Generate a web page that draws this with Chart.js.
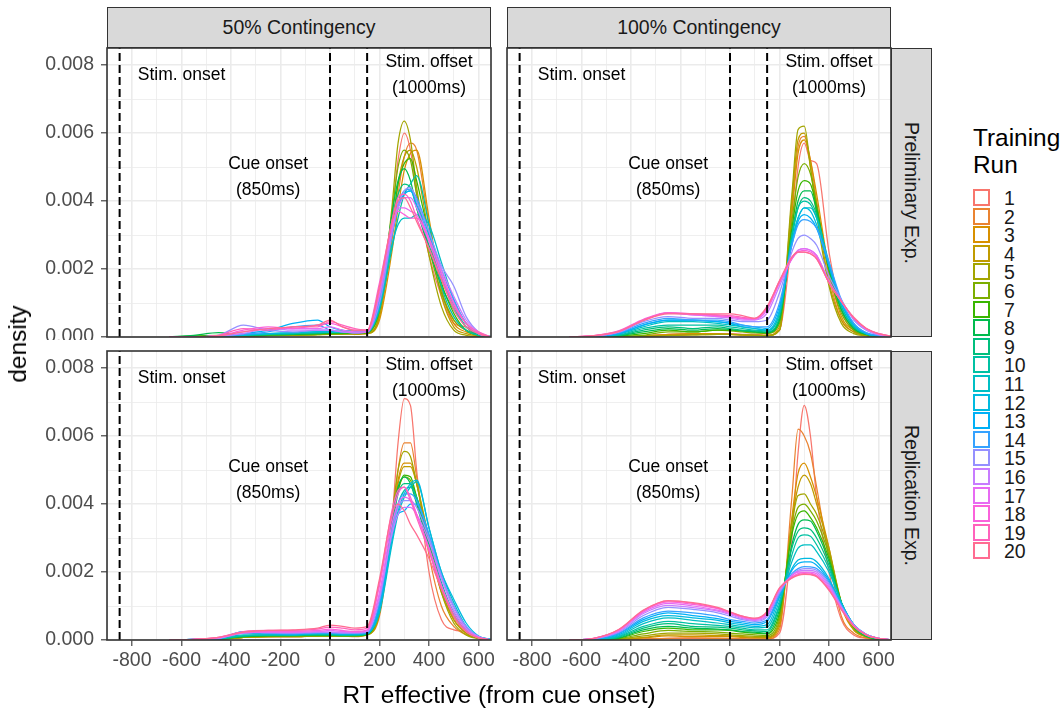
<!DOCTYPE html>
<html>
<head>
<meta charset="utf-8">
<script src="https://cdn.jsdelivr.net/npm/chart.js@4.4.1/dist/chart.umd.min.js"></script>
<style>
body { margin: 0; background: #fff; }
#fig { position: relative; width: 1064px; height: 711px; overflow: hidden; font-family: 'Liberation Sans', Arial, sans-serif; }
#fig canvas, #fig div { position: absolute; }
.strip { background: #D9D9D9; border: 1.6px solid #333; box-sizing: border-box; color: #1A1A1A; font-size: 19.5px;
         display: flex; align-items: center; justify-content: center; }
.side { writing-mode: vertical-rl; }
.title { font-size: 24.4px; color: #000; white-space: nowrap; }
.key { width: 17px; height: 17px; box-sizing: border-box; background: #fff; }
.keylab { font-size: 19.5px; color: #1A1A1A; transform: translateY(-50%); }
</style>
</head>
<body>
<div id="fig"></div>
<script>
const FONT = "'Liberation Sans', Arial, sans-serif";
Chart.defaults.font.family = FONT;

const runs = ['1','2','3','4','5','6','7','8','9','10','11','12','13','14','15','16','17','18','19','20'];
const runColors = ['#F8766D','#EA8331','#D89000','#C09B00','#A3A500','#7CAE00','#39B600','#00BB4E','#00BF7D','#00C1A3',
                   '#00BFC4','#00BAE0','#00B0F6','#35A2FF','#9590FF','#C77CFF','#E76BF3','#FA62DB','#FF62BC','#FF6C91'];
const colFacets = ['50% Contingency', '100% Contingency'];
const rowFacets = ['Preliminary Exp.', 'Replication Exp.'];

// RT effective (ms from cue onset) where the densities are read
const rtGrid = [-650,-550,-450,-350,-250,-150,-50,0,50,100,150,200,250,275,300,325,350,400,450,500,550,600,650];

// density x 10^4, one row per training run
const prelim50 = [
  [0,0,0,0.2,0.5,0.5,1,1,1,1,1.5, 8,35,52,60,55,42,24,12,4,3,1,0],
  [0,0,0,0.3,0.6,0.8,1,1,1,1,1.2, 6,28,42,53,57,55,33,14,5,2,1,0],
  [0,0,0,0.2,0.5,0.5,0.8,1,1,0.8,1, 5,25,38,49,54,55,35,14,4,1.5,0.5,0],
  [0,0,0,0.3,0.5,0.6,0.8,1,1,1,1.2, 6,30,45,53,55,50,30,12,3,1,0.3,0],
  [0,0,0,0.2,0.4,0.5,0.6,0.8,0.8,1,1, 7,38,57,63.5,58,44,24,9,2,0.5,0.1,0],
  [0,0.2,0.3,0.3,0.5,0.6,0.8,1,1,1,1.3, 8,36,50,55,52,42,26,13,5,2,0.5,0],
  [0,0.3,0.5,0.4,0.6,0.8,1,1,1.1,1.2,1.3, 8,32,45,51,52.5,46,30,16,7,2,0.5,0],
  [0,0.5,1.3,0.5,0.6,0.8,1,1.2,1.2,1.2,1.5, 10,36,46,49.5,46,38,26,15,8,3,0.5,0],
  [0,0,0.2,0.5,0.8,1,1.2,1.5,1.8,1.8,1.8, 11,34,42,45,44,38,27,17,9,3,1,0],
  [0,0,0.2,0.5,0.8,1,1.3,1.5,1.5,1.5,1.5, 8,26,35,42,45,47.5,33,15,6,2,0.5,0],
  [0,0,0.2,0.5,1,1.2,1.5,1.5,1.5,1.5,1.5, 9,27,33,35,35,36,33,22,11,4,1,0.2],
  [0,0,0.2,0.6,1,1.3,1.6,1.5,1.5,1.5,1.5, 9,30,38,42,43,40,30,18,9,3,1,0],
  [0,0,0.3,1,2,4,5,3,2,1.5,1.5, 10,30,38,42,43,39,29,18,10,4,1,0],
  [0,0,0.3,0.8,1.5,3,3.5,2,1.5,1.5,1.5, 11,31,39,43,43.5,41,31,20,11,4,1,0],
  [0,0,0.5,3.5,2,1.5,2,2,1.5,1.2,1.5, 10,30,39,43,44,40,31,21,15,6,1.5,0],
  [0,0,0.3,1,2.5,2,2,2,1.5,1.2,1.5, 12,31,38,41,41,38,29,20,12,5,1.5,0],
  [0,0,0.5,1.5,2.5,2.5,2.5,3,2,1.5,1.5, 13,32,38,38,37,36,28,18,10,4,1,0],
  [0,0,0.3,2,3,2.5,3.5,4,3,2,2, 16,33,37,36,35,35,29,19,10,4,1,0],
  [0,0,0.5,2.5,2,3,3,4.5,3.5,2.5,2, 14,34,41,42,40,35,26,17,9,4,1.5,0],
  [0,0,0.4,1.5,2.5,3,3.5,5,3,2,2, 15,34,40,41,38,34,26,17,8,3,1,0]
];
const prelim100 = [
  [0,0,0,0.3,0.8,1,1,1,0.8,0.8,0.5, 2,30,50,57,52,51,25,8,2,0.5,0.2,0],
  [0,0,0,0.2,0.6,0.8,0.8,0.8,0.6,0.5,0.5, 2,38,56,59,52,40,18,5,1.5,0.5,0.2,0],
  [0,0,0,0.3,0.8,1,1,0.8,0.6,0.5,0.5, 3,36,54,58,52,42,20,6,2,0.5,0.2,0],
  [0,0,0,0.2,0.5,0.6,0.8,0.8,0.6,0.5,0.4, 2,40,58,60,50,38,16,5,1.5,0.5,0.2,0],
  [0,0,0,0.2,0.4,0.6,0.8,0.8,0.6,0.5,0.4, 2,42,61,62,50,36,15,4,1,0.3,0.1,0],
  [0,0,0.2,0.5,1.5,1.5,2,1.8,1.5,1.2,1, 4,34,47,51,48,39,19,7,2,0.6,0.2,0],
  [0,0,0.3,1,2,1.5,2,2,1.8,1.5,1.2, 5,32,43,46,45,38,20,8,2.5,0.8,0.2,0],
  [0,0,0.4,1.5,2.5,2,2.5,2.2,1.8,1.5,1.3, 5,30,40,43,43,37,20,8,2.5,0.8,0.2,0],
  [0,0,0.5,2,3,2.5,3,2.5,2,1.8,1.5, 6,29,38,41,40,36,21,9,3,1,0.3,0],
  [0,0,0.6,2.5,3.5,3.5,3.5,3,2.5,2,1.8, 7,30,38,40,39,35,21,9,3,1,0.3,0],
  [0,0.1,0.8,3,4.5,4.5,4,3.5,3,2.5,2, 7,28,35,38,38,35,22,10,3.5,1,0.3,0],
  [0,0.1,1,3.5,5,5,4.5,4,3,2.5,2, 8,28,35,38,37,33,21,10,3.5,1,0.3,0],
  [0,0.2,1,3.5,5,5,4.5,4,3.5,3,2.5, 9,27,34,36,35,32,21,10,4,1.2,0.4,0],
  [0,0.2,1.2,4,5.5,5,5,4.5,3.5,3,3, 10,27,33,34.5,34,32,22,11,4,1.3,0.4,0],
  [0,0.3,1.4,4.5,6,5.5,5.5,5,4.5,4.5,5, 13,25,29,30,29,27,18,11,5,2,0.6,0.1],
  [0,0.3,1.5,5,7,6.5,6,5.5,5,5,7, 15,23,25.5,26,25.5,24,16.5,10.5,5.5,2.2,0.8,0.2],
  [0,0.3,1.6,5,7,6.5,6,5.8,5.3,5.2,8, 16,23,25.5,26,25.5,24,16,10.5,5.5,2.3,0.8,0.2],
  [0,0.4,1.8,5.2,7.2,6.8,6.3,6,5.5,5.3,8.5, 16,23,25,25.5,25,23.5,16,10.5,5.5,2.5,1,0.3],
  [0,0.4,1.7,5,7,6.8,6.5,6.3,5.8,5.5,8.8, 16.5,23.5,25,25,24.5,23,16,10.5,5.5,2.5,1,0.3],
  [0,0.4,1.6,4.8,6.8,6.8,6.8,6.8,6.3,5.5,9, 16.5,23.5,25,25,24.5,23,16,10.5,5.8,2.6,1,0.3]
];
const repl50 = [
  [0,0,0.2,0.8,1,1,1.2,1.5,1.5,1.5,2, 8,35,58,71,69,50,20,6,3,2.5,0.5,0],
  [0,0,0.2,0.8,1,1,1.2,1.2,1.2,1,1.5, 7,33,50,58,58,48,25,10,4,1.5,0.5,0],
  [0,0,0.2,0.8,1,1,1.2,1.2,1.2,1.2,1.5, 8,34,47,52,52,46,28,14,6,2,0.5,0],
  [0,0,0.2,0.8,1,1.2,1.2,1.2,1.2,1.2,1.5, 8,34,46,51,51,46,30,15,6,2,0.5,0],
  [0,0,0.2,0.8,1,1,1.2,1.2,1.2,1.2,1.5, 8,36,50,55.5,54,46,29,14,5,1.5,0.4,0],
  [0,0,0.3,1,1.2,1.2,1.3,1.3,1.2,1.2,1.6, 9,34,44,48,47,42,30,16,7,2.5,0.6,0],
  [0,0.2,0.4,1,1.2,1.3,1.3,1.3,1.3,1.3,1.6, 9,34,44,48.5,48,42,28,15,7,2.5,0.6,0],
  [0,0,0.3,1,1.3,1.3,1.5,1.4,1.3,1.3,1.7, 10,35,45,48,46,40,27,15,7,2.5,0.6,0],
  [0,0,0.3,1.2,1.4,1.4,1.6,1.6,1.4,1.4,1.8, 10,33,43,46,46,41,28,16,8,3,0.8,0],
  [0,0,0.3,1.2,1.5,1.5,1.6,1.6,1.5,1.5,1.8, 9,31,40,44,45,42,30,17,8,3,0.8,0],
  [0,0.2,0.4,1.5,1.5,1.5,1.8,1.8,1.6,1.6,2, 8,28,37,42,45,46.5,33,20,11,4,1,0.2],
  [0,0.2,0.4,2,1.8,1.6,2,2,1.8,1.8,2, 9,29,38,43,46,47,33,20,12,5,1.2,0.2],
  [0,0.2,0.4,2.5,2,1.8,2,2,1.8,1.8,2, 10,31,37,38,40,40,31,19,10,4,1,0],
  [0,0.2,0.5,2.5,2,1.8,2.2,2.2,2,2,2.2, 11,32,40,43,43,41,31,19,10,4,1,0],
  [0,0.2,0.5,2.3,2.2,2,2.2,2.2,2,2,2.3, 12,32,39,41,41,39,30,19,10,4,1,0],
  [0,0.2,0.6,2.2,2.2,2.2,2.4,2.4,2.2,2.2,2.5, 13,31,37,39,39,37,29,18,9,3.5,1,0],
  [0,0.2,0.6,2,2.5,2.3,2.5,2.8,2.5,2.3,2.8, 14,34,40,42,41,37,27,16,8,3,0.8,0],
  [0,0.2,0.8,2.3,2.5,2.5,2.8,3.2,2.8,2.5,3, 16,36,43,45,42,37,27,16,7,2.5,0.6,0],
  [0,0.2,0.8,2.5,2.8,2.8,3.2,3.8,3.5,3,3.5, 17,38,44,45,41,36,26,15,7,2.5,0.6,0],
  [0,0.2,0.8,2.3,2.8,3,3.5,4.4,4,3.5,4, 18,37,40,38,34,31,24,15,7,2.5,0.6,0]
];
const repl100 = [
  [0,0,0,0.2,0.5,0.5,0.5,0.4,0.3,0.2,0.3, 2,30,55,69,60,42,20,6,1.5,0.5,0.1,0],
  [0,0,0,0.3,0.5,0.6,0.5,0.5,0.4,0.3,0.3, 3,42,62,60,55,45,24,7,2,0.6,0.1,0],
  [0,0,0.1,0.6,1.2,1,1,1,0.8,0.6,0.6, 4,36,49,52,48,42,27,10,3,1,0.2,0],
  [0,0,0.2,0.8,1.5,1.5,1.3,1.2,1,0.8,0.8, 5,35,45,48.5,46,40,27,11,3,1,0.2,0],
  [0,0,0.3,1.2,2,2,1.8,1.5,1.3,1.1,1, 6,34,42.5,43,40,37,26,11,3.5,1,0.3,0],
  [0,0,0.4,1.8,2.8,2.5,2.3,2,1.8,1.5,1.3, 7,32,39,40,38,35,25,11,3.5,1,0.3,0],
  [0,0,0.5,2.5,3.5,3,3,2.8,2.3,2,1.8, 8,31,37,38,36,33,24,11,4,1.2,0.3,0],
  [0,0,0.6,3,4,3.5,3.2,3,2.5,2.3,2, 9,28,34,35.3,35,32,23,11,4,1.2,0.3,0],
  [0,0.1,0.8,3.5,4.8,4,3.8,3.5,3,2.7,2.5, 10,27,32,33,32.5,30,22,11,4,1.3,0.4,0],
  [0,0.1,1,4,5.5,4.8,4.3,4,3.5,3,3, 10.5,25,30,30.9,30.5,28,21,11,4.5,1.5,0.4,0],
  [0,0.2,1.2,4.8,6.5,5.8,5,4.5,4,3.6,3.8, 11.5,23,27,28,28,26,20,11,4.5,1.5,0.4,0],
  [0,0.2,1.5,5.5,7.2,6.5,5.8,5,4.5,4,4.5, 12.5,21,23.5,24,24,23,18,10.5,4.5,1.6,0.5,0.1],
  [0,0.3,1.8,6,8,7.2,6.3,5.5,5,4.5,5.5, 13,20.5,22.5,23,23,22,17.5,10.5,4.5,1.7,0.5,0.1],
  [0,0.3,2,6.5,8.5,8,7,6,5.5,5,6, 13.5,19.5,21,21.6,21.5,21,17,10,4.5,1.7,0.5,0.1],
  [0,0.4,2.3,7.2,9.6,9,8,7,6,5.5,6.8, 14,19,20.5,21,21,20.5,16.5,10,4.5,1.7,0.5,0.1],
  [0,0.4,2.5,7.8,10.2,9.5,8.5,7.5,6.3,5.8,7.2, 14.5,19,20.2,20.5,20.5,20,16,9.5,4.3,1.6,0.5,0.1],
  [0,0.5,2.7,8.2,10.8,10,8.8,7.8,6.6,6,7.6, 15,19,20,20,20,19.5,15.5,9.3,4.2,1.6,0.5,0.1],
  [0,0.5,2.9,8.5,11.2,10.5,9.2,8,6.8,6.2,8, 15,18.5,19.5,19.8,19.7,19,15,9,4.1,1.5,0.5,0.1],
  [0,0.5,3,8.7,11.5,10.8,9.4,8.2,7,6.3,8.2, 15.2,18.3,19.2,19.5,19.4,18.8,14.8,9,4.1,1.5,0.5,0.1],
  [0,0.5,3.1,8.8,11.6,11,9.6,8.3,7,6.4,8.4, 15.3,18.2,19,19.3,19.2,18.6,14.6,8.9,4,1.5,0.5,0.1]
];

const eventLines = [-850, 0, 150];
const noteText = [['Stim. onset'], ['Cue onset', '(850ms)'], ['Stim. offset', '(1000ms)']];
const noteX = [-600, -250, 400];
const noteY = [0.0077, 0.0047, 0.0077];

const xGridTicks = [-900,-800,-700,-600,-500,-400,-300,-200,-100,0,100,200,300,400,500,600];
const xLabelTicks = [-800,-600,-400,-200,0,200,400,600];
const yGridTicks = [0,0.001,0.002,0.003,0.004,0.005,0.006,0.007,0.008];
const yLabelTicks = [0,0.002,0.004,0.006,0.008];

const PW = 384, PH = 289, PAD = 3, YAXW = 107, XAXH = 40;
const panels = [
  { rows: prelim50,  left: 107, top: 48,  xAxis: false, yAxis: true },
  { rows: prelim100, left: 507, top: 48,  xAxis: false, yAxis: false },
  { rows: repl50,    left: 107, top: 351, xAxis: true,  yAxis: true },
  { rows: repl100,   left: 507, top: 351, xAxis: true,  yAxis: false }
];

const fig = document.getElementById('fig');

// panel frame + text labels
const panelExtras = {
  id: 'panelExtras',
  afterDraw(chart) {
    const ctx = chart.ctx, a = chart.chartArea;
    const sx = chart.scales.x, sy = chart.scales.y;
    ctx.save();
    ctx.fillStyle = '#000';
    ctx.font = '17.5px ' + FONT;
    ctx.textAlign = 'center';
    ctx.textBaseline = 'middle';
    noteText.forEach((lines, i) => {
      const cx = sx.getPixelForValue(noteX[i]);
      const cy = sy.getPixelForValue(noteY[i]);
      lines.forEach((t, j) => ctx.fillText(t, cx, cy + (j - (lines.length - 1) / 2) * 25.7));
    });
    ctx.strokeStyle = '#333';
    ctx.lineWidth = 1.6;
    ctx.strokeRect(a.left, a.top, a.right - a.left, a.bottom - a.top);
    ctx.restore();
  }
};

function fitAxis(size) {
  return s => {
    if (s.isHorizontal()) s.height = size; else s.width = size;
    s.paddingLeft = s.paddingRight = s.paddingTop = s.paddingBottom = 0;
  };
}

panels.forEach(p => {
  const cv = document.createElement('canvas');
  const w = PW + (p.yAxis ? YAXW : 0) + 2 * PAD;
  const h = PH + (p.xAxis ? XAXH : 0) + 2 * PAD;
  cv.width = w; cv.height = h;
  cv.style.left = (p.left - (p.yAxis ? YAXW : 0) - PAD) + 'px';
  cv.style.top = (p.top - PAD) + 'px';
  cv.style.width = w + 'px'; cv.style.height = h + 'px';
  fig.appendChild(cv);

  const datasets = p.rows.map((row, i) => ({
    label: runs[i],
    data: rtGrid.map((x, k) => ({ x: x, y: row[k] / 1e4 })),
    borderColor: runColors[i],
    borderWidth: 1.25,
    fill: false,
    cubicInterpolationMode: 'monotone',
    order: runs.length - i
  }));
  eventLines.forEach(v => datasets.push({
    data: [{ x: v, y: 0 }, { x: v, y: 0.0085 }],
    borderColor: '#000',
    borderWidth: 2,
    borderDash: [8, 4],
    order: -1
  }));

  new Chart(cv, {
    type: 'line',
    data: { datasets },
    options: {
      responsive: false,
      animation: false,
      devicePixelRatio: 1,
      layout: { padding: PAD },
      elements: { point: { radius: 0 } },
      plugins: { legend: { display: false }, tooltip: { enabled: false } },
      scales: {
        x: {
          type: 'linear', min: -901, max: 650.5,
          afterBuildTicks: s => { s.ticks = xGridTicks.map(v => ({ value: v })); },
          afterFit: fitAxis(p.xAxis ? XAXH : 0),
          border: { display: false },
          grid: {
            color: '#EBEBEB',
            lineWidth: c => (c.tick && xLabelTicks.includes(c.tick.value)) ? 1.6 : 0.8,
            drawTicks: p.xAxis, tickLength: 6, tickWidth: 1.1,
            tickColor: c => (c.tick && xLabelTicks.includes(c.tick.value)) ? '#333' : 'rgba(0,0,0,0)'
          },
          ticks: {
            display: p.xAxis, autoSkip: false, maxRotation: 0, minRotation: 0, padding: 3,
            color: '#4D4D4D', font: { size: 19.5 },
            callback: v => xLabelTicks.includes(v) ? String(v) : ''
          }
        },
        y: {
          type: 'linear', min: 0, max: 0.0085,
          afterBuildTicks: s => { s.ticks = yGridTicks.map(v => ({ value: v })); },
          afterFit: fitAxis(p.yAxis ? YAXW : 0),
          border: { display: false },
          grid: {
            color: '#EBEBEB',
            lineWidth: c => (c.tick && yLabelTicks.includes(c.tick.value)) ? 1.6 : 0.8,
            drawTicks: p.yAxis, tickLength: 6, tickWidth: 1.1,
            tickColor: c => (c.tick && yLabelTicks.includes(c.tick.value)) ? '#333' : 'rgba(0,0,0,0)'
          },
          ticks: {
            display: p.yAxis, autoSkip: false, padding: 7,
            color: '#4D4D4D', font: { size: 19.5 },
            callback: v => yLabelTicks.includes(v) ? v.toFixed(3) : ''
          }
        }
      }
    },
    plugins: [panelExtras]
  });
});

// facet strips
function addDiv(cls, css, text) {
  const d = document.createElement('div');
  d.className = cls;
  Object.assign(d.style, css);
  if (text !== undefined) d.textContent = text;
  fig.appendChild(d);
  return d;
}
colFacets.forEach((t, i) => addDiv('strip', { left: (107 + i * 400) + 'px', top: '7px', width: PW + 'px', height: '41px' }, t));
rowFacets.forEach((t, i) => addDiv('strip side', { left: '891px', top: (48 + i * 303) + 'px', width: '41px', height: PH + 'px' }, t));

// axis titles
addDiv('title', { left: '0px', width: '998px', top: '681px', lineHeight: '28px', textAlign: 'center' }, 'RT effective (from cue onset)');
addDiv('title', { left: '18px', top: '344px', transform: 'translate(-50%,-50%) rotate(-90deg)' }, 'density');

// legend
const lt = addDiv('title', { left: '973px', top: '124px', lineHeight: '27px' });
lt.innerHTML = 'Training<br>Run';
runs.forEach((r, i) => {
  const y = Math.round(189 + i * 18.6);
  addDiv('key', { left: '973px', top: y + 'px', border: '2px solid ' + runColors[i] });
  addDiv('keylab', { left: '1004px', top: (y + 9) + 'px' }, r);
});
</script>
</body>
</html>
